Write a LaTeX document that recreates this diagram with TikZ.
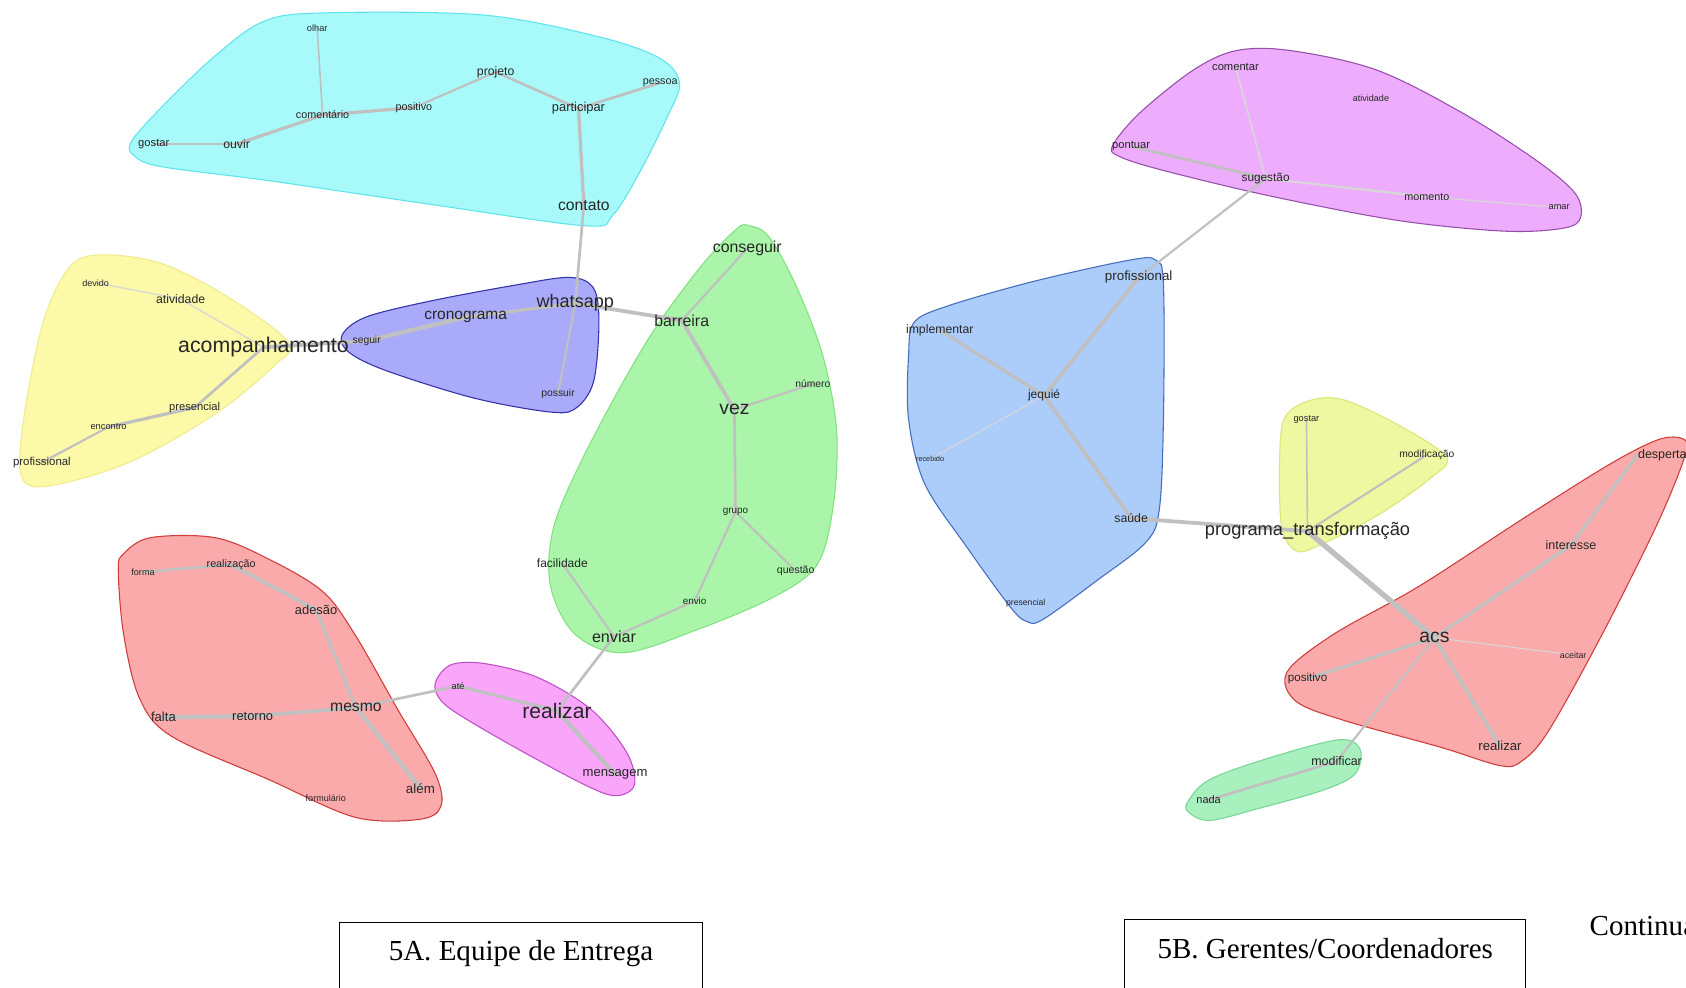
\documentclass[tikz,border=0pt]{standalone}
\usepackage{fontspec}
\setmainfont{Liberation Sans}
\newfontfamily\capfont{Liberation Serif}
\pgfdeclarelayer{hulls}
\pgfdeclarelayer{links}
\pgfsetlayers{hulls,links,main}
\definecolor{cyanF}{RGB}{168,250,250}\definecolor{cyanD}{RGB}{95,228,235}
\definecolor{yelF}{RGB}{252,250,168}\definecolor{yelD}{RGB}{240,235,140}
\definecolor{bluF}{RGB}{170,170,250}\definecolor{bluD}{RGB}{50,50,170}
\definecolor{grnF}{RGB}{170,245,170}\definecolor{grnD}{RGB}{130,225,130}
\definecolor{magF}{RGB}{248,165,250}\definecolor{magD}{RGB}{190,80,200}
\definecolor{redF}{RGB}{250,170,170}\definecolor{redD}{RGB}{210,60,60}
\definecolor{rmagF}{RGB}{238,172,252}\definecolor{rmagD}{RGB}{150,80,170}
\definecolor{rbluF}{RGB}{172,204,250}\definecolor{rbluD}{RGB}{70,110,190}
\definecolor{rylwF}{RGB}{238,248,160}\definecolor{rylwD}{RGB}{220,230,120}
\definecolor{rgrnF}{RGB}{168,240,190}\definecolor{rgrnD}{RGB}{120,215,150}
\definecolor{linkC}{RGB}{192,192,192}
\definecolor{linkL}{RGB}{215,215,215}
\tikzset{
  lab/.style={inner sep=0pt, text=black!85, font=\fontsize{#1}{#1}\selectfont},
  lk/.style={draw=linkC, line width=#1, line cap=round},
  lkl/.style={draw=linkL, line width=#1, line cap=round},
  hull/.style 2 args={fill=#1, draw=#2, line width=0.5pt},
  capbox/.style={draw=black, line width=0.5pt, anchor=north, inner sep=0pt,
    text height=18pt, text depth=20pt, font=\capfont\fontsize{13.5}{16}\selectfont}
}
\begin{document}
\begin{tikzpicture}[x=0.5pt,y=-0.5pt]
\path[use as bounding box] (0,0) rectangle (1568,918);
\clip (0,0) rectangle (1568,918);
\begin{pgfonlayer}{hulls}
\fill[white] (0,0) rectangle (1568,918);
% left side hulls
\draw[hull={cyanF}{cyanD}] plot[smooth cycle, tension=0.55] coordinates {(122,132) (150,100) (200,52) (245,20) (300,12) (450,14) (560,35) (615,55) (632,78) (620,110) (595,160) (570,200) (545,210) (400,190) (250,168) (150,155) (125,145)};
\draw[hull={yelF}{yelD}] plot[smooth cycle, tension=0.55] coordinates {(95,237) (150,245) (210,275) (268,318) (255,340) (200,385) (120,430) (45,452) (20,443) (22,390) (40,300) (65,248)};
\draw[hull={bluF}{bluD}] plot[smooth cycle, tension=0.55] coordinates {(318,312) (340,295) (400,280) (480,265) (530,258) (552,268) (557,300) (552,355) (535,380) (510,383) (440,370) (360,345) (325,328)};
\draw[hull={grnF}{grnD}] plot[smooth cycle, tension=0.55] coordinates {(697,210) (715,220) (740,265) (765,330) (778,400) (775,470) (760,525) (720,555) (650,585) (580,607) (535,590) (512,545) (515,490) (545,420) (600,320) (650,250) (685,213)};
\draw[hull={magF}{magD}] plot[smooth cycle, tension=0.55] coordinates {(406,632) (420,618) (450,617) (500,630) (550,660) (583,700) (590,730) (572,740) (540,728) (470,690) (420,660) (406,645)};
\draw[hull={redF}{redD}] plot[smooth cycle, tension=0.55] coordinates {(115,515) (140,500) (200,500) (250,520) (300,550) (330,590) (370,660) (405,720) (410,750) (390,762) (330,760) (250,725) (160,685) (130,650) (115,590) (110,530)};
% right side hulls
\draw[hull={rmagF}{rmagD}] plot[smooth cycle, tension=0.55] coordinates {(1035,135) (1060,105) (1110,65) (1150,47) (1200,47) (1280,65) (1360,105) (1430,150) (1465,180) (1470,202) (1455,212) (1400,215) (1300,205) (1180,182) (1080,158) (1040,145)};
\draw[hull={rbluF}{rbluD}] plot[smooth cycle, tension=0.55] coordinates {(850,300) (880,285) (960,262) (1050,242) (1075,242) (1082,265) (1082,390) (1078,475) (1065,505) (1020,540) (970,576) (955,578) (940,565) (900,510) (860,450) (845,390) (845,330)};
\draw[hull={rylwF}{rylwD}] plot[smooth cycle, tension=0.55] coordinates {(1195,388) (1220,372) (1250,372) (1300,395) (1345,425) (1330,445) (1280,480) (1225,508) (1205,512) (1192,490) (1190,430)};
\draw[hull={redF}{redD}] plot[smooth cycle, tension=0.55] coordinates {(1197,625) (1240,590) (1320,545) (1420,480) (1500,430) (1545,408) (1568,410) (1565,430) (1540,490) (1490,590) (1440,680) (1415,708) (1395,712) (1340,695) (1250,670) (1205,652)};
\draw[hull={rgrnF}{rgrnD}] plot[smooth cycle, tension=0.55] coordinates {(1105,745) (1125,725) (1180,705) (1245,688) (1265,697) (1260,720) (1230,735) (1170,752) (1125,763) (1105,755)};
\end{pgfonlayer}

% ---------- labels: left graph ----------
\node[lab=4.3] (olhar) at (295,26) {olhar};
\node[lab=5.7] (projeto) at (461,67) {projeto};
\node[lab=5] (pessoa) at (614,77) {pessoa};
\node[lab=5] (positivo) at (385,100) {positivo};
\node[lab=5] (comentario) at (300,107) {comentário};
\node[lab=6] (participar) at (538,101) {participar};
\node[lab=5.2] (gostar) at (143,134) {gostar};
\node[lab=5.7] (ouvir) at (220,134) {ouvir};
\node[lab=7.3] (contato) at (543,191) {contato};

\node[lab=4.2] (devido) at (89,263) {devido};
\node[lab=5.7] (atividade) at (168,278) {atividade};
\node[lab=9.9] (acomp) at (245,323) {acompanhamento};
\node[lab=5.2] (presencial) at (181,379) {presencial};
\node[lab=4.3] (encontro) at (101,397) {encontro};
\node[lab=5.3] (profissional) at (39,430) {profissional};

\node[lab=4.8] (seguir) at (341,317) {seguir};
\node[lab=7.2] (cronograma) at (433,295) {cronograma};
\node[lab=8.4] (whatsapp) at (535,282) {whatsapp};
\node[lab=4.8] (possuir) at (519,366) {possuir};

\node[lab=7.4] (conseguir) at (695,231) {conseguir};
\node[lab=7.4] (barreira) at (634,298) {barreira};
\node[lab=4.8] (numero) at (756,357) {número};
\node[lab=9] (vez) at (683,381) {vez};
\node[lab=4.6] (grupo) at (684,476) {grupo};
\node[lab=5.6] (facilidade) at (523,524) {facilidade};
\node[lab=4.9] (questao) at (740,531) {questão};
\node[lab=4.6] (envio) at (646,559) {envio};
\node[lab=7.5] (enviar) at (571,592) {enviar};

\node[lab=4.3] (ate) at (426,638) {até};
\node[lab=9.8] (realizarA) at (518,661) {realizar};
\node[lab=6.1] (mensagem) at (572,720) {mensagem};

\node[lab=4.2] (forma) at (133,532) {forma};
\node[lab=5] (realizacao) at (215,525) {realização};
\node[lab=6] (adesao) at (294,567) {adesão};
\node[lab=7.3] (mesmo) at (331,658) {mesmo};
\node[lab=6.1] (falta) at (152,667) {falta};
\node[lab=6] (retorno) at (235,666) {retorno};
\node[lab=4.2] (formulario) at (303,742) {formulário};
\node[lab=6.2] (alem) at (391,733) {além};

% ---------- labels: right graph ----------
\node[lab=5.2] (comentar) at (1149,62) {comentar};
\node[lab=4.2] (atividadeB) at (1275,91) {atividade};
\node[lab=5.2] (pontuar) at (1052,136) {pontuar};
\node[lab=5.5] (sugestao) at (1177,166) {sugestão};
\node[lab=5] (momento) at (1327,183) {momento};
\node[lab=4.3] (amar) at (1450,193) {amar};

\node[lab=6.2] (profissionalB) at (1059,258) {profissional};
\node[lab=5.7] (implementar) at (874,307) {implementar};
\node[lab=5.6] (jequie) at (971,368) {jequié};
\node[lab=3.4] (recebido) at (865,427) {recebido};
\node[lab=5.7] (saude) at (1052,482) {saúde};
\node[lab=4] (presencialB) at (954,561) {presencial};

\node[lab=4.3] (gostarB) at (1215,390) {gostar};
\node[lab=4.8] (modificacao) at (1327,423) {modificação};
\node[lab=8.5] (programa) at (1216,494) {programa\_transformação};

\node[lab=5.8,anchor=west] (despertar) at (1523,423) {despertar};
\node[lab=5.8] (interesse) at (1461,507) {interesse};
\node[lab=9] (acs) at (1334,593) {acs};
\node[lab=4.1] (aceitar) at (1463,609) {aceitar};
\node[lab=5.4] (positivoB) at (1216,631) {positivo};
\node[lab=6.1] (realizarB) at (1395,694) {realizar};
\node[lab=5.8] (modificar) at (1243,708) {modificar};
\node[lab=5.1] (nada) at (1124,744) {nada};

% ---------- captions ----------
\node[capbox, minimum width=168.5pt] (capA) at (484.5,857) {5A. Equipe de Entrega};
\node[capbox, minimum width=186.5pt] (capB) at (1232.5,855) {5B. Gerentes/Coordenadores};
\node[anchor=base west, inner sep=0pt, font=\capfont\fontsize{13.5}{16}\selectfont] (cont) at (1478,870) {Continua};

% ---------- links ----------
\begin{pgfonlayer}{links}
\draw[lk=0.75pt] (olhar.center) -- (comentario.center);
\draw[lk=1.5pt] (comentario.center) -- (positivo.center);
\draw[lk=1pt] (positivo.center) -- (projeto.center);
\draw[lk=1.25pt] (projeto.center) -- (participar.center);
\draw[lk=1.25pt] (participar.center) -- (pessoa.center);
\draw[lk=1.5pt] (comentario.center) -- (ouvir.center);
\draw[lk=1.25pt] (ouvir.center) -- (gostar.center);
\draw[lk=1.5pt] (participar.center) -- (contato.center);
\draw[lk=1.25pt] (contato.center) -- (whatsapp.center);
\draw[lk=1pt] (whatsapp.center) -- (possuir.center);

\draw[lkl=0.6pt] (devido.center) -- (atividade.center);
\draw[lkl=0.6pt] (atividade.center) -- (acomp.center);
\draw[lk=1.25pt] (acomp.center) -- (presencial.center);
\draw[lk=1.5pt] (presencial.center) -- (encontro.center);
\draw[lk=1pt] (encontro.center) -- (profissional.center);
\draw[lk=1.75pt] (acomp.center) -- (seguir.center);
\draw[lk=2pt] (seguir.center) -- (cronograma.center);
\draw[lk=1.5pt] (cronograma.center) -- (whatsapp.center);

\draw[lk=1.75pt] (whatsapp.center) -- (barreira.center);
\draw[lk=1pt] (barreira.center) -- (conseguir.center);
\draw[lk=1.75pt] (barreira.center) -- (vez.center);
\draw[lk=1pt] (vez.center) -- (numero.center);
\draw[lk=1.25pt] (vez.center) -- (grupo.center);
\draw[lk=1pt] (grupo.center) -- (envio.center);
\draw[lk=1pt] (grupo.center) -- (questao.center);
\draw[lk=1pt] (envio.center) -- (enviar.center);
\draw[lk=1pt] (facilidade.center) -- (enviar.center);
\draw[lk=1.25pt] (enviar.center) -- (realizarA.center);

\draw[lk=1.25pt] (mesmo.center) -- (ate.center);
\draw[lk=1.5pt] (ate.center) -- (realizarA.center);
\draw[lk=2pt] (realizarA.center) -- (mensagem.center);

\draw[lk=1.25pt] (forma.center) -- (realizacao.center);
\draw[lk=1.75pt] (realizacao.center) -- (adesao.center);
\draw[lk=1.5pt] (adesao.center) -- (mesmo.center);
\draw[lk=1.75pt] (mesmo.center) -- (retorno.center);
\draw[lk=2pt] (retorno.center) -- (falta.center);
\draw[lk=2pt] (mesmo.center) -- (alem.center);

\draw[lkl=0.75pt] (comentar.center) -- (sugestao.center);
\draw[lk=1.25pt] (pontuar.center) -- (sugestao.center);
\draw[lkl=1pt] (sugestao.center) -- (momento.center);
\draw[lkl=0.6pt] (momento.center) -- (amar.center);
\draw[lk=1pt] (sugestao.center) -- (profissionalB.center);
\draw[lk=1.75pt] (profissionalB.center) -- (jequie.center);
\draw[lk=1.5pt] (implementar.center) -- (jequie.center);
\draw[lk=1.75pt] (jequie.center) -- (saude.center);
\draw[lkl=0.5pt] (jequie.center) -- (recebido.center);
\draw[lk=1.75pt] (saude.center) -- (programa.center);
\draw[lk=0.75pt] (gostarB.center) -- (programa.center);
\draw[lk=1pt] (modificacao.center) -- (programa.center);
\draw[lk=2.5pt] (programa.center) -- (acs.center);
\draw[lk=1.5pt] (acs.center) -- (interesse.center);
\draw[lk=1.5pt] (interesse.center) -- (despertar.west);
\draw[lk=1.5pt] (acs.center) -- (positivoB.center);
\draw[lk=1.75pt] (acs.center) -- (realizarB.center);
\draw[lk=1pt] (acs.center) -- (modificar.center);
\draw[lk=1.25pt] (modificar.center) -- (nada.center);
\draw[lkl=0.5pt] (acs.center) -- (aceitar.center);
\end{pgfonlayer}
\end{tikzpicture}
\end{document}
